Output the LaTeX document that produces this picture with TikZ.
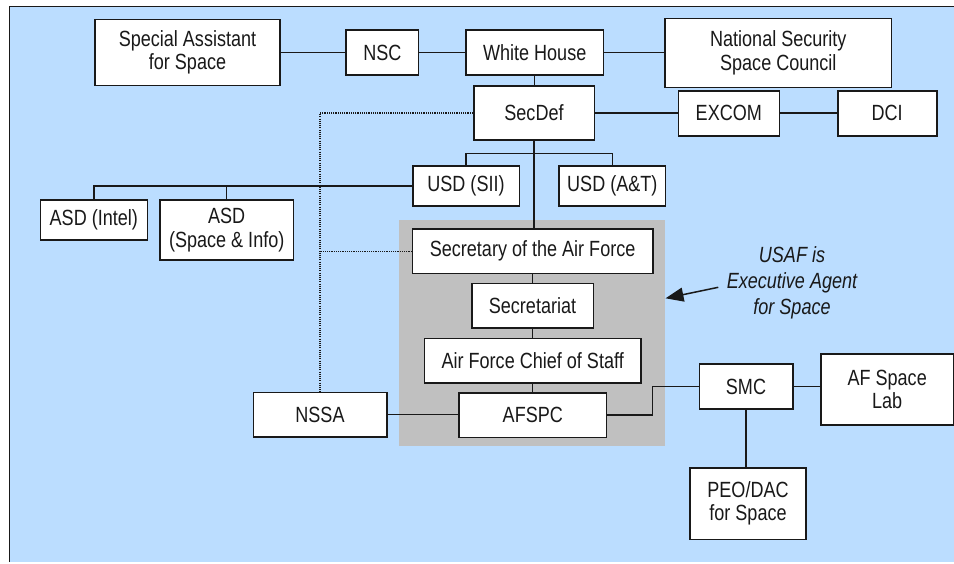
\documentclass[tikz,border=0pt]{standalone}
\usepackage{fontspec}
\setmainfont{Liberation Sans}[FakeStretch=0.82]
\usetikzlibrary{arrows.meta}
\definecolor{bgblue}{RGB}{187,221,255}
\definecolor{greybox}{RGB}{192,192,192}
\definecolor{ink}{RGB}{25,25,25}
\begin{document}
\begin{tikzpicture}[x=1pt,y=-1pt,
  box/.style={draw=ink, line width=1.6pt, fill=white, inner sep=0pt, align=center,
    font=\fontsize{22}{23.5}\selectfont, text=ink},
  conn/.style={draw=ink, line width=1.5pt},
  dots/.style={draw=ink, line width=1.2pt, dash pattern=on 1.1pt off 1.1pt}]
\useasboundingbox (0,0) rectangle (954,563);
\fill[bgblue] (9,6) rectangle (954,562);
\draw[ink, line width=1.5pt] (9.3,562) -- (9.3,6.3) -- (954,6.3);

\node[fill=greybox, minimum width=265.7pt, minimum height=225.7pt, inner sep=0pt] (grey) at (532.2,332.85) {};

% nodes
\node[box, minimum width=185pt, minimum height=66pt] (spa) at (187.5,52.5) {Special Assistant\\for Space};
\node[box, minimum width=72.7pt, minimum height=45pt] (nsc) at (382.3,52.5) {NSC};
\node[box, minimum width=137.3pt, minimum height=45pt] (wh) at (534.7,52.5) {White House};
\node[box, minimum width=226.7pt, minimum height=69pt] (nssc) at (778.3,52.8) {National Security\\Space Council};
\node[box, minimum width=120.6pt, minimum height=54pt] (secdef) at (534,113) {SecDef};
\node[box, minimum width=101pt, minimum height=45pt] (excom) at (728.8,113.2) {EXCOM};
\node[box, minimum width=99pt, minimum height=45pt] (dci) at (887.2,113.2) {DCI};
\node[box, minimum width=106.6pt, minimum height=40pt] (usdsii) at (466,186) {USD (SII)};
\node[box, minimum width=106.7pt, minimum height=40pt] (usdat) at (612.3,186) {USD (A\&T)};
\node[box, minimum width=107pt, minimum height=40pt] (asdi) at (93.8,220) {ASD (Intel)};
\node[box, minimum width=133.3pt, minimum height=60pt] (asds) at (226.7,230) {ASD\\(Space \& Info)};
\node[box, minimum width=240.2pt, minimum height=44.3pt] (secaf) at (532.6,251.2) {Secretary of the Air Force};
\node[box, minimum width=121.6pt, minimum height=44.4pt] (secr) at (532.5,305.5) {Secretariat};
\node[box, minimum width=216.7pt, minimum height=44.4pt] (afcos) at (532.7,360.5) {Air Force Chief of Staff};
\node[box, minimum width=147.7pt, minimum height=44.6pt] (afspc) at (532.8,415) {AFSPC};
\node[box, minimum width=133.4pt, minimum height=44.4pt] (nssa) at (320,414.5) {NSSA};
\node[box, minimum width=93.4pt, minimum height=45pt] (smc) at (746,386.5) {SMC};
\node[box, minimum width=132.3pt, minimum height=71pt] (afsl) at (887.2,389.5) {AF Space\\Lab};
\node[box, minimum width=116pt, minimum height=71.6pt] (peo) at (748,503.5) {PEO/DAC\\for Space};

\node[align=center, text=ink, font=\fontsize{22}{26}\selectfont\itshape] (note) at (792,283) {USAF is\\Executive Agent\\for Space};

% connectors
\draw[conn] (spa.east) -- (nsc.west);
\draw[conn] (nsc.east) -- (wh.west);
\draw[conn] (wh.east) -- (wh.east -| nssc.west);
\draw[conn] (wh.south) -- (wh.south |- secdef.north);
\draw[conn] (secdef.east) -- (secdef.east -| excom.west);
\draw[conn] (excom.east) -- (dci.west);
\draw[conn] (secdef.south) -- (secdef.south |- secaf.north);
\coordinate (br) at (534,153.3);
\draw[conn] (usdsii.north) |- (br) -| (usdat.north);
\draw[conn] (usdsii.west) -| (asdi.north);
\draw[conn] (asds.north) -- (asds.north |- usdsii.west);
\draw[dots] (secdef.west) -| (nssa.north);
\draw[dots] (secaf.west) -- (secaf.west -| nssa.north);
\draw[conn] (secaf.south) -- (secaf.south |- secr.north);
\draw[conn] (secr.south) -- (secr.south |- afcos.north);
\draw[conn] (afcos.south) -- (afcos.south |- afspc.north);
\draw[conn] (nssa.east) -- (nssa.east -| afspc.west);
\coordinate (jog) at (652.3,386.5);
\draw[conn] (afspc.east) -| (jog) -- (smc.west);
\draw[conn] (smc.east) -- (smc.east -| afsl.west);
\draw[conn] (smc.south) -- (smc.south |- peo.north);
\coordinate (atail) at (718.3,287.3);
\coordinate (atip) at (665.5,298.3);
\draw[conn, -{Triangle[length=18pt,width=14pt]}] (atail) -- (atip);
\end{tikzpicture}
\end{document}
